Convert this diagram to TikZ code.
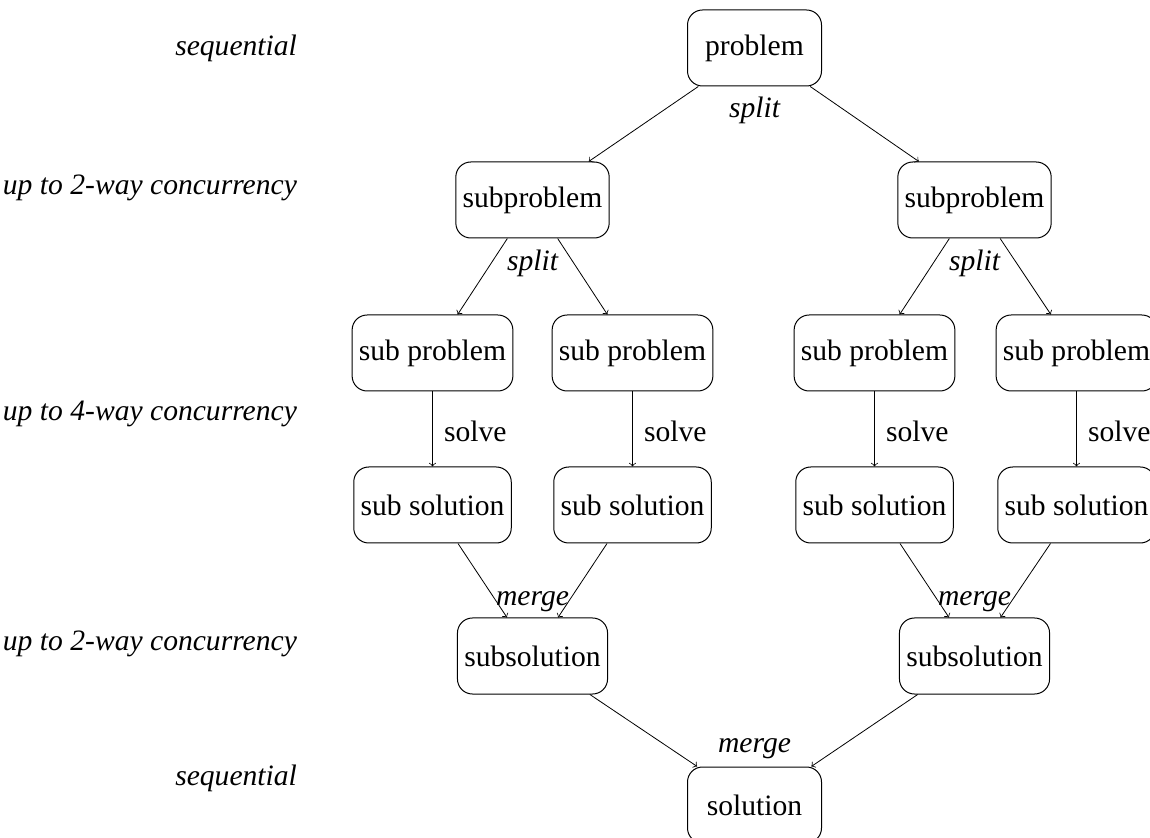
\documentclass[tikz,border=0pt]{standalone}
\usepackage{fontspec}
\setmainfont{Liberation Serif}
\begin{document}
\begin{tikzpicture}[x=0.5pt,y=-0.5pt,
  font=\fontsize{14.8}{17}\selectfont,
  box/.style={draw,line width=0.5pt,rounded corners=7.5pt,minimum width=67pt,
    minimum height=38pt,inner xsep=3.4pt},
  flow/.style={->,line width=0.4pt},
  phase/.style={anchor=base east,font=\fontsize{14.8}{17}\selectfont\itshape},
  op/.style={anchor=base,font=\fontsize{14.8}{17}\selectfont\itshape},
  act/.style={anchor=base west}]
\useasboundingbox (0,0) rectangle (1150,838);

% phase annotations
\node[phase] (ph1) at (304,56)  {sequential};
\node[phase] (ph2) at (304,195) {up to 2-way concurrency};
\node[phase] (ph3) at (304,421) {up to 4-way concurrency};
\node[phase] (ph4) at (304,650) {up to 2-way concurrency};
\node[phase] (ph5) at (304,785) {sequential};

% problem tree
\node[box] (prob) at (754.5,48) {problem};
\node[box] (subL) at (532.5,200) {subproblem};
\node[box] (subR) at (974.5,200) {subproblem};
\node[box] (p1) at (432.5,353) {sub problem};
\node[box] (p2) at (632.5,353) {sub problem};
\node[box] (p3) at (874.5,353) {sub problem};
\node[box] (p4) at (1076.5,353) {sub problem};
\node[box] (s1) at (432.5,505) {sub solution};
\node[box] (s2) at (632.5,505) {sub solution};
\node[box] (s3) at (874.5,505) {sub solution};
\node[box] (s4) at (1076.5,505) {sub solution};
\node[box] (mL) at (532.5,656) {subsolution};
\node[box] (mR) at (974.5,656) {subsolution};
\node[box] (sol) at (754.5,805) {solution};

% operation labels
\node[op] (sp0) at (754.5,118) {split};
\node[op] (spL) at (532.5,271) {split};
\node[op] (spR) at (974.5,271) {split};
\node[op] (mgL) at (532.5,606) {merge};
\node[op] (mgR) at (974.5,606) {merge};
\node[op] (mg0) at (754.5,752) {merge};
\node[act] (v1) at (437,442) {solve};
\node[act] (v2) at (637,442) {solve};
\node[act] (v3) at (879,442) {solve};
\node[act] (v4) at (1081,442) {solve};

% connectors
\draw[flow] (prob) -- (subL);
\draw[flow] (prob) -- (subR);
\draw[flow] (subL) -- (p1);
\draw[flow] (subL) -- (p2);
\draw[flow] (subR) -- (p3);
\draw[flow] (subR) -- (p4);
\draw[flow] (p1) -- (s1);
\draw[flow] (p2) -- (s2);
\draw[flow] (p3) -- (s3);
\draw[flow] (p4) -- (s4);
\draw[flow] (s1) -- (mL);
\draw[flow] (s2) -- (mL);
\draw[flow] (s3) -- (mR);
\draw[flow] (s4) -- (mR);
\draw[flow] (mL) -- (sol);
\draw[flow] (mR) -- (sol);
\end{tikzpicture}
\end{document}
